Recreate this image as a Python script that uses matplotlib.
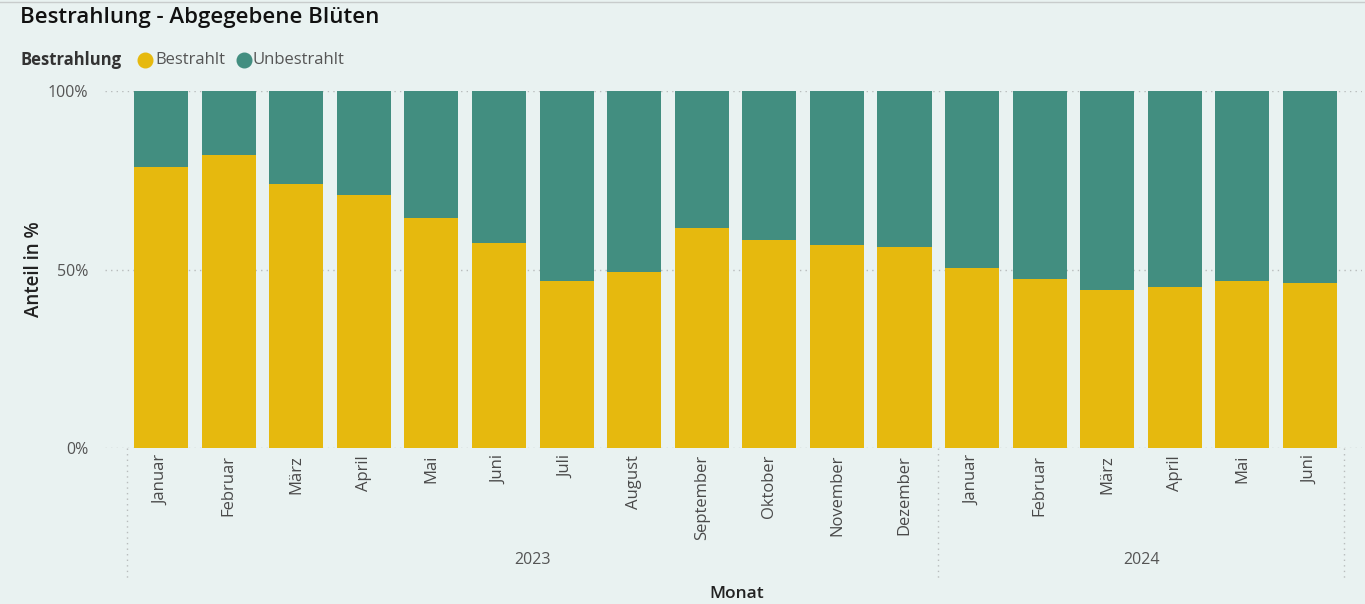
import matplotlib
matplotlib.use("Agg")
import matplotlib.pyplot as plt
from matplotlib.lines import Line2D
import numpy as np

months = ["Januar", "Februar", "März", "April", "Mai", "Juni", "Juli", "August",
          "September", "Oktober", "November", "Dezember",
          "Januar", "Februar", "März", "April", "Mai", "Juni"]
years = ["2023", "2024"]
year_counts = [12, 6]
bestrahlt = [78.7, 82.1, 73.9, 70.9, 64.4, 57.4, 46.8, 49.3, 61.6, 58.3, 56.9, 56.3,
             50.4, 47.3, 44.3, 45.1, 46.8, 46.2]
unbestrahlt = [100 - v for v in bestrahlt]

BG = "#e9f2f1"
YELLOW = "#e6b90e"
TEAL = "#428e80"
GRID = "#b8bcbc"
TXT = "#555555"

plt.rcParams["font.family"] = ["Open Sans", "DejaVu Sans"]

W, H = 1365, 604
fig = plt.figure(figsize=(W / 100, H / 100), dpi=100, facecolor=BG)
# axes spans px 105..1362 horizontally, 91..448 vertically
ax = fig.add_axes([105 / W, 1 - 448 / H, (1362 - 105) / W, (448 - 91) / H])
ax.set_facecolor(BG)

x = np.arange(len(months))
ax.bar(x, bestrahlt, width=0.8, color=YELLOW, zorder=2)
ax.bar(x, unbestrahlt, bottom=bestrahlt, width=0.8, color=TEAL, zorder=2)

ax.set_xlim(-0.83, len(months) - 0.5 + 0.27)
ax.set_ylim(0, 100)
for v in (0, 50, 100):
    ax.axhline(v, color=GRID, lw=1, ls=(0, (1, 3)), zorder=1)

for s in ax.spines.values():
    s.set_visible(False)
ax.set_yticks([0, 50, 100])
ax.set_yticklabels(["0%", "50%", "100%"], color=TXT, fontsize=11.5)
ax.tick_params(axis="y", length=0, pad=12)
ax.set_xticks(x)
ax.set_xticklabels(months, rotation=90, color="#4a4a4a", fontsize=12, va="top")
ax.tick_params(axis="x", length=0, pad=5)

# year grouping
start = 0
bounds = [-0.5]
for yr, n in zip(years, year_counts):
    center = start + (n - 1) / 2
    ax.text(center, -31.5, yr, ha="center", va="center", color=TXT, fontsize=11.5)
    start += n
    bounds.append(start - 0.5)
for b in bounds:
    ax.add_line(Line2D([b, b], [0, -36.5], color=GRID, lw=1, ls=(0, (1, 3)),
                       clip_on=False))

ax.set_ylabel("Anteil in %", fontsize=13.5, color="#222222", labelpad=3,
              fontweight="semibold")
fig.text(737 / W, 1 - 594 / H, "Monat", ha="center", va="center",
         fontsize=12.5, color="#222222", fontweight="semibold")

fig.text(20 / W, 1 - 18 / H, "Bestrahlung - Abgegebene Blüten", ha="left",
         va="center", fontsize=16, color="#111111", fontweight="semibold")
fig.text(20 / W, 1 - 60 / H, "Bestrahlung", ha="left", va="center",
         fontsize=12, color="#333333", fontweight="bold")
fig.lines.append(Line2D([145 / W], [1 - 60 / H], marker="o", ms=10.5, color=YELLOW,
                        transform=fig.transFigure))
fig.text(155 / W, 1 - 60 / H, "Bestrahlt", ha="left", va="center",
         fontsize=12, color=TXT)
fig.lines.append(Line2D([244 / W], [1 - 60 / H], marker="o", ms=10.5, color=TEAL,
                        transform=fig.transFigure))
fig.text(253 / W, 1 - 60 / H, "Unbestrahlt", ha="left", va="center",
         fontsize=12, color=TXT)
fig.lines.append(Line2D([0, 1], [1 - 2 / H, 1 - 2 / H], color="#c8cccc", lw=1,
                        transform=fig.transFigure))

fig.savefig("out.png", dpi=100, facecolor=BG)
